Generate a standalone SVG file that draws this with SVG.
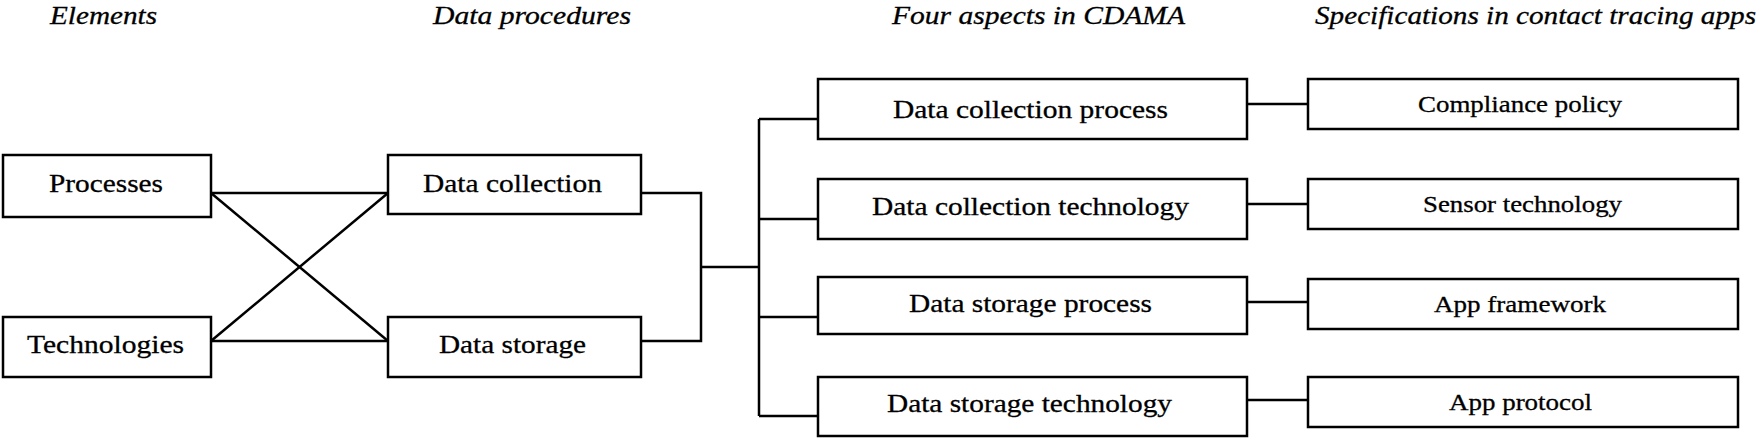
<svg xmlns="http://www.w3.org/2000/svg" width="1762" height="438" viewBox="0 0 1762 438">
<style>
  .box { fill: #ffffff; stroke: #000000; stroke-width: 2.5; }
  .ln { stroke: #000000; stroke-width: 2.5; fill: none; }
  .t { font-family: "Liberation Serif", "Times New Roman", serif; font-size: 26px; fill: #000000; stroke: #000000; stroke-width: 0.3; }
  .s { font-family: "Liberation Serif", "Times New Roman", serif; font-size: 24px; fill: #000000; stroke: #000000; stroke-width: 0.3; }
  .h { font-family: "Liberation Serif", "Times New Roman", serif; font-size: 26px; font-style: italic; fill: #000000; stroke: #000000; stroke-width: 0.3; }
</style>
<rect width="1762" height="438" fill="#ffffff"/>
<g id="headers">
  <text class="h" x="50" y="24" textLength="107" lengthAdjust="spacingAndGlyphs">Elements</text>
  <text class="h" x="433" y="24" textLength="198" lengthAdjust="spacingAndGlyphs">Data procedures</text>
  <text class="h" x="892" y="24" textLength="293" lengthAdjust="spacingAndGlyphs">Four aspects in CDAMA</text>
  <text class="h" x="1315" y="24" textLength="441" lengthAdjust="spacingAndGlyphs">Specifications in contact tracing apps</text>
</g>
<g id="connectors">
  <line class="ln" x1="211" y1="193" x2="388" y2="193"/>
  <line class="ln" x1="211" y1="193" x2="388" y2="341"/>
  <line class="ln" x1="211" y1="341" x2="388" y2="193"/>
  <line class="ln" x1="211" y1="341" x2="388" y2="341"/>
  <polyline class="ln" points="641,193 701,193 701,341 641,341"/>
  <line class="ln" x1="701" y1="267" x2="759" y2="267"/>
  <line class="ln" x1="759" y1="119" x2="759" y2="416"/>
  <line class="ln" x1="759" y1="119" x2="818" y2="119"/>
  <line class="ln" x1="759" y1="219" x2="818" y2="219"/>
  <line class="ln" x1="759" y1="317" x2="818" y2="317"/>
  <line class="ln" x1="759" y1="416" x2="818" y2="416"/>
  <line class="ln" x1="1247" y1="104" x2="1308" y2="104"/>
  <line class="ln" x1="1247" y1="204" x2="1308" y2="204"/>
  <line class="ln" x1="1247" y1="302" x2="1308" y2="302"/>
  <line class="ln" x1="1247" y1="400" x2="1308" y2="400"/>
</g>
<g id="processes">
  <rect class="box" x="3" y="155" width="208" height="62"/>
  <text class="t" x="49" y="192" textLength="114" lengthAdjust="spacingAndGlyphs">Processes</text>
</g>
<g id="technologies">
  <rect class="box" x="3" y="317" width="208" height="60"/>
  <text class="t" x="27" y="353" textLength="157" lengthAdjust="spacingAndGlyphs">Technologies</text>
</g>
<g id="data-collection">
  <rect class="box" x="388" y="155" width="253" height="59"/>
  <text class="t" x="423" y="192" textLength="179" lengthAdjust="spacingAndGlyphs">Data collection</text>
</g>
<g id="data-storage">
  <rect class="box" x="388" y="317" width="253" height="60"/>
  <text class="t" x="439" y="353" textLength="147" lengthAdjust="spacingAndGlyphs">Data storage</text>
</g>
<g id="dc-process">
  <rect class="box" x="818" y="79" width="429" height="60"/>
  <text class="t" x="893" y="118" textLength="275" lengthAdjust="spacingAndGlyphs">Data collection process</text>
</g>
<g id="dc-technology">
  <rect class="box" x="818" y="179" width="429" height="60"/>
  <text class="t" x="872" y="215" textLength="317" lengthAdjust="spacingAndGlyphs">Data collection technology</text>
</g>
<g id="ds-process">
  <rect class="box" x="818" y="277" width="429" height="57"/>
  <text class="t" x="909" y="312" textLength="243" lengthAdjust="spacingAndGlyphs">Data storage process</text>
</g>
<g id="ds-technology">
  <rect class="box" x="818" y="377" width="429" height="59"/>
  <text class="t" x="887" y="412" textLength="285" lengthAdjust="spacingAndGlyphs">Data storage technology</text>
</g>
<g id="compliance-policy">
  <rect class="box" x="1308" y="79" width="430" height="50"/>
  <text class="s" x="1418" y="112" textLength="204" lengthAdjust="spacingAndGlyphs">Compliance policy</text>
</g>
<g id="sensor-technology">
  <rect class="box" x="1308" y="179" width="430" height="50"/>
  <text class="s" x="1423" y="212" textLength="199" lengthAdjust="spacingAndGlyphs">Sensor technology</text>
</g>
<g id="app-framework">
  <rect class="box" x="1308" y="279" width="430" height="50"/>
  <text class="s" x="1434" y="312" textLength="172" lengthAdjust="spacingAndGlyphs">App framework</text>
</g>
<g id="app-protocol">
  <rect class="box" x="1308" y="377" width="430" height="50"/>
  <text class="s" x="1449" y="410" textLength="143" lengthAdjust="spacingAndGlyphs">App protocol</text>
</g>
</svg>
